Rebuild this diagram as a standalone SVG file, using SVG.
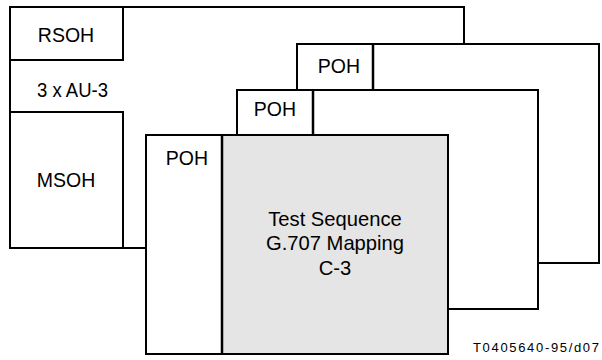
<svg xmlns="http://www.w3.org/2000/svg" width="602" height="360" viewBox="0 0 602 360">
<style>
.f{fill:#fff;stroke:#000;stroke-width:2}
.g{fill:#e5e5e5;stroke:#000;stroke-width:2}
.d{fill:none;stroke:#000;stroke-width:2.5}
text{font-family:"Liberation Sans",Arial,sans-serif;font-size:19.5px;fill:#000}
.c{text-anchor:middle}
.m{font-size:20.2px}
</style>
<rect width="602" height="360" fill="#fff"/>
<g id="stm1">
<rect class="f" x="10" y="7" width="454" height="241"/>
<rect class="f" x="10" y="7" width="113" height="53"/>
<rect class="f" x="10" y="112" width="113" height="136"/>
<text class="c" x="66" y="42">RSOH</text>
<text x="37" y="97" textLength="71" lengthAdjust="spacingAndGlyphs">3 x AU-3</text>
<text class="c" x="66" y="187">MSOH</text>
</g>
<g id="au3a">
<rect class="f" x="297" y="44" width="302" height="219"/>
<path class="d" d="M373 44V90"/>
<text class="c" x="339" y="73">POH</text>
</g>
<g id="au3b">
<rect class="f" x="237" y="90" width="301" height="219"/>
<path class="d" d="M313 90V135"/>
<text class="c" x="275" y="116">POH</text>
</g>
<g id="au3c">
<rect class="f" x="146" y="135" width="302" height="219"/>
<rect class="g" x="222" y="135" width="226" height="219"/>
<path class="d" d="M222 135V354"/>
<text class="c" x="187" y="165">POH</text>
<text class="c m" x="335" y="226">Test Sequence</text>
<text class="c m" x="335" y="250">G.707 Mapping</text>
<text class="c m" x="335" y="275">C-3</text>
</g>
<g id="connectors"></g>
<text x="473" y="352" style="font-size:13px" textLength="126" lengthAdjust="spacing">T0405640-95/d07</text>
</svg>
